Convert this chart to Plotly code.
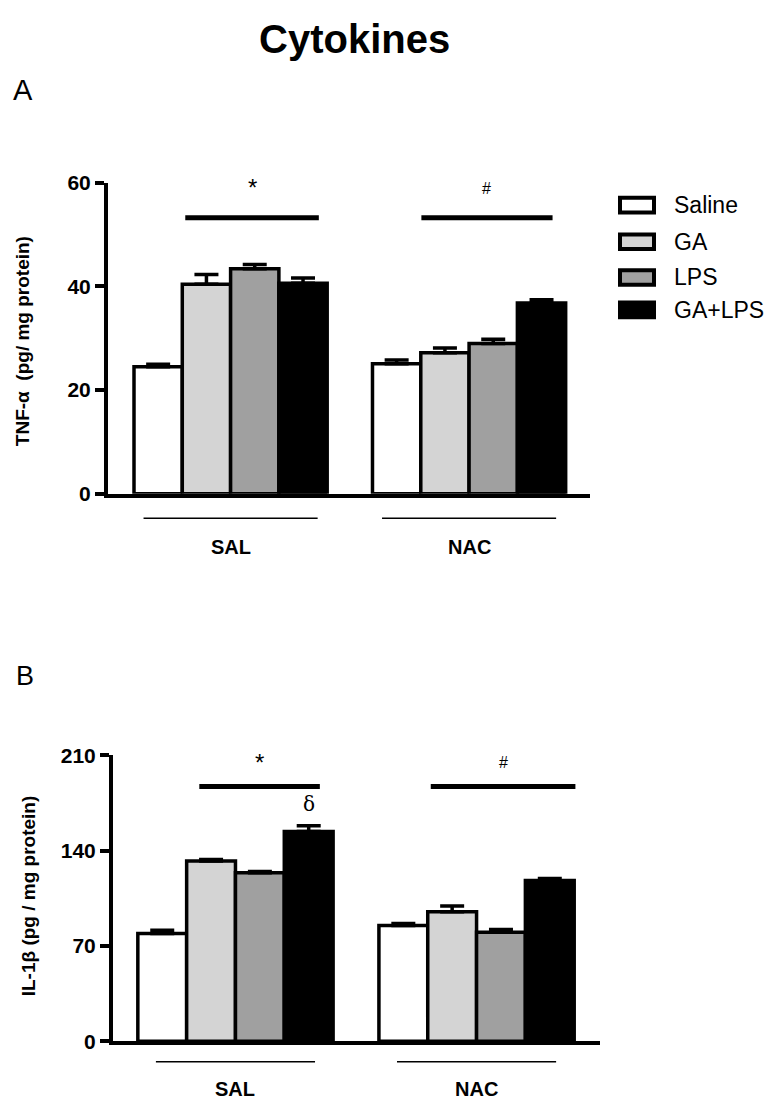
import plotly.graph_objects as go

# ---------------- data ----------------
groups = ["SAL", "NAC"]
series = ["Saline", "GA", "LPS", "GA+LPS"]
colors = ["#ffffff", "#d4d4d4", "#a0a0a0", "#000000"]

tnf_vals = {"Saline": [24.5, 25.1], "GA": [40.4, 27.2], "LPS": [43.4, 29.0], "GA+LPS": [40.6, 36.8]}
tnf_err = {"Saline": [0.5, 0.7], "GA": [1.9, 0.9], "LPS": [0.8, 0.8], "GA+LPS": [1.0, 0.6]}

il1_vals = {"Saline": [79.0, 85.0], "GA": [132.4, 95.0], "LPS": [123.7, 80.0], "GA+LPS": [154.0, 118.0]}
il1_err = {"Saline": [2.5, 1.5], "GA": [1.0, 4.3], "LPS": [1.0, 2.0], "GA+LPS": [4.3, 1.5]}

tnf_ticks = [0, 20, 40, 60]
il1_ticks = [0, 70, 140, 210]

FONT = "Liberation Sans, Arial, sans-serif"
NARROW = "Liberation Sans Narrow, Liberation Sans, Arial, sans-serif"

# page body has an 8px margin; keep the figure inside the 781x1115 window
OFF = 8
W, H = 781 - 2 * OFF, 1115 - 2 * OFF

fig = go.Figure()
gpos = list(range(len(groups)))

for i, s in enumerate(series):
    for vals, errs, xa, ya in [(tnf_vals, tnf_err, "x", "y"), (il1_vals, il1_err, "x2", "y2")]:
        fig.add_trace(go.Bar(
            x=gpos, y=vals[s], name=s, xaxis=xa, yaxis=ya, showlegend=False,
            marker=dict(color=colors[i], line=dict(color="black", width=3.5)),
            error_y=dict(type="data", array=errs[s], arrayminus=[0] * len(groups),
                         symmetric=False, color="black", thickness=3.5, width=12),
        ))


def px_x(p):
    return (p - OFF) / W


def px_y(p):
    return 1 - (p - OFF) / H


axis_common = dict(showgrid=False, zeroline=False, showline=True, linecolor="black",
                   linewidth=4)
tickstyle = dict(ticks="outside", ticklen=9, tickwidth=4, tickcolor="black",
                 tickfont=dict(size=21, weight="bold", family=FONT))
fig.update_layout(
    width=W, height=H, margin=dict(l=0, r=0, t=0, b=0),
    paper_bgcolor="white", plot_bgcolor="white",
    barmode="group", bargap=0.19, bargroupgap=0,
    font=dict(family=FONT, color="black"),
    xaxis=dict(domain=[px_x(108), px_x(590)], range=[-0.514, 1.507], anchor="y",
               showticklabels=False, ticks="", **axis_common),
    yaxis=dict(domain=[px_y(492), px_y(174)], range=[0, 60], anchor="x",
               tickvals=tnf_ticks, **tickstyle, **axis_common),
    xaxis2=dict(domain=[px_x(113), px_x(600)], range=[-0.508, 1.512], anchor="y2",
                showticklabels=False, ticks="", **axis_common),
    yaxis2=dict(domain=[px_y(1051), px_y(759)], range=[0, 210], anchor="x2",
                tickvals=il1_ticks, **tickstyle, **axis_common),
)

shapes = []
ann = []


def note(text, x, y, size, family=FONT, xref="paper", yref="paper", xanchor="center",
         angle=0):
    ann.append(dict(text=text, x=x, y=y, xref=xref, yref=yref, showarrow=False,
                    xanchor=xanchor, yanchor="middle", textangle=angle,
                    font=dict(size=size, family=family, color="black")))


# Title and panel letters
note("<b>Cytokines</b>", px_x(354), px_y(27), 40, NARROW)
note("A", px_x(23), px_y(79), 29, NARROW)
note("B", px_x(25), px_y(678), 27, NARROW)

# y-axis titles
note("<b>TNF-α  (pg/ mg protein)</b>", px_x(22), px_y(336), 19, angle=-90)
note("<b>IL-1β (pg / mg protein)</b>", px_x(28), px_y(903), 19, angle=-90)

# group underlines and labels
for xa, line_y, lab_y, half in [("x", 517, 546, 0.365), ("x2", 1072, 1100, 0.33)]:
    for gi, g in enumerate(groups):
        shapes.append(dict(type="line", xref=xa, yref="paper", x0=gi - half, x1=gi + half,
                           y0=px_y(line_y), y1=px_y(line_y), line=dict(color="black", width=1.5)))
        note("<b>%s</b>" % g, gi, px_y(lab_y), 20, xref=xa)

# significance bars
sig = [
    ("x", "y", 0, 53.2, 59.0, "*", -0.19, 0.37, 24),
    ("x", "y", 1, 53.2, 58.8, "#", -0.20, 0.35, 16),
    ("x2", "y2", 0, 187.0, 205.0, "*", -0.15, 0.35, 24),
    ("x2", "y2", 1, 187.0, 205.0, "#", -0.19, 0.41, 16),
]
for xa, ya, gi, ly, ty, sym, a, b, fs in sig:
    shapes.append(dict(type="line", xref=xa, yref=ya, x0=gi + a, x1=gi + b, y0=ly, y1=ly,
                       line=dict(color="black", width=5)))
    note(sym, gi + (a + b) / 2, ty, fs, xref=xa, yref=ya)

# delta over GA+LPS (SAL) in panel B
note("δ", 0.305, 174, 20, family="DejaVu Serif, serif", xref="x2", yref="y2")

# custom legend
leg_y = [197, 234.5, 271, 304]
for i, s in enumerate(series):
    cy = leg_y[i]
    shapes.append(dict(type="rect", xref="paper", yref="paper",
                       x0=px_x(620), x1=px_x(654), y0=px_y(cy - 7.5), y1=px_y(cy + 7.5),
                       fillcolor=colors[i], line=dict(color="black", width=4)))
    note(s, px_x(672), px_y(cy), 23, xanchor="left")

fig.update_layout(shapes=shapes, annotations=ann)
fig.write_html("out.html")
